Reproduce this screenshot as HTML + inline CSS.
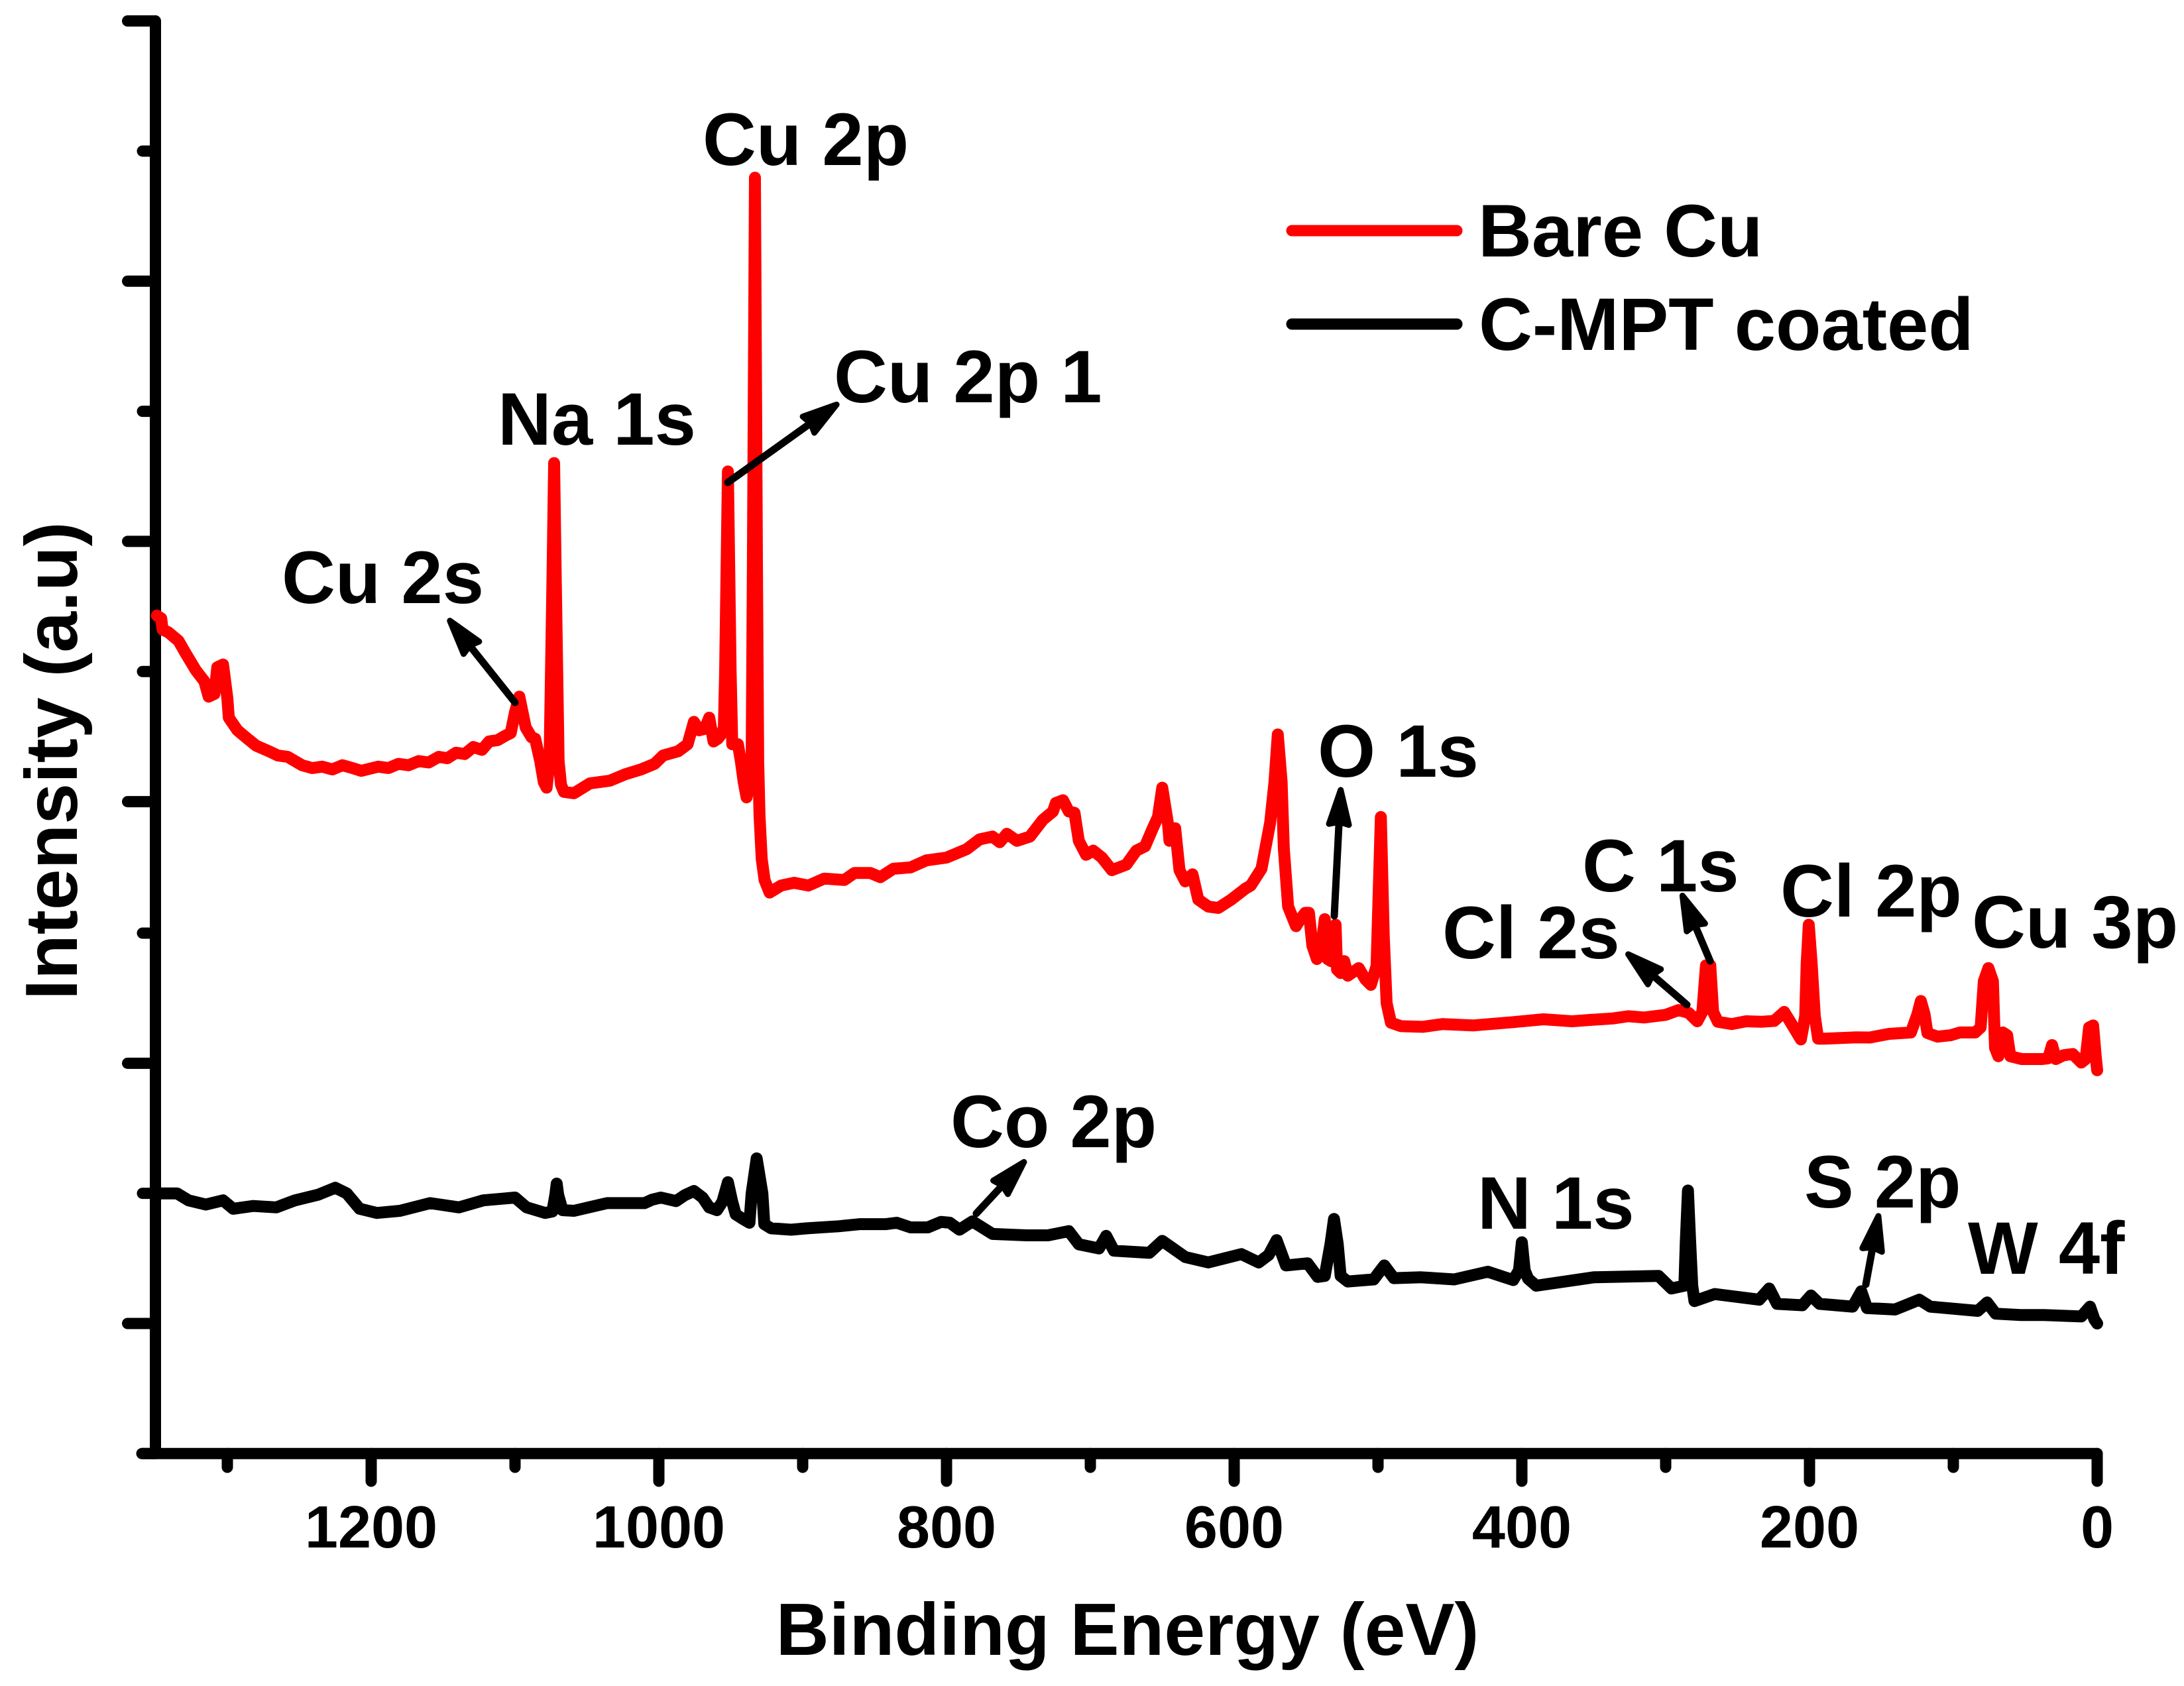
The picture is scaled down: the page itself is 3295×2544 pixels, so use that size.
<!DOCTYPE html>
<html lang="en">
<head>
<meta charset="utf-8">
<title>XPS survey spectra</title>
<style>
html,body{margin:0;padding:0;background:#fff;}
svg{display:block;}
text{font-family:"Liberation Sans",Arial,sans-serif;font-weight:bold;fill:#000;white-space:pre;}
.lbl{font-size:112px;}
.tick{font-size:90px;text-anchor:middle;}
.title{font-size:111px;}
</style>
</head>
<body>
<svg id="chart" xmlns="http://www.w3.org/2000/svg" width="3295" height="2544" viewBox="0 0 3295 2544">
<rect x="0" y="0" width="3295" height="2544" fill="#fff"/>
<g id="axes"></g>
<g id="series"></g>
<g id="arrows"></g>
<g>
<text class="lbl" x="1060" y="249">Cu 2p</text>
<text class="lbl" x="751" y="671">Na 1s</text>
<text class="lbl" x="1258" y="607">Cu 2p 1</text>
<text class="lbl" x="425" y="910">Cu 2s</text>
<text class="lbl" x="1988" y="1172">O 1s</text>
<text class="lbl" x="2387" y="1345">C 1s</text>
<text class="lbl" x="2176" y="1446">Cl 2s</text>
<text class="lbl" x="2686" y="1383">Cl 2p</text>
<text class="lbl" x="2975" y="1430">Cu 3p</text>
<text class="lbl" x="1434" y="1731">Co 2p</text>
<text class="lbl" x="2229" y="1854">N 1s</text>
<text class="lbl" x="2722" y="1822">S 2p</text>
<text class="lbl" x="2969" y="1922">W 4f</text>
</g>
<g>
<line x1="1949" y1="348" x2="2198" y2="348" stroke="#f00" stroke-width="17" stroke-linecap="round"/>
<text class="lbl" x="2230" y="387">Bare Cu</text>
<line x1="1949" y1="489" x2="2198" y2="489" stroke="#000" stroke-width="17" stroke-linecap="round"/>
<text class="lbl" x="2231" y="528">C-MPT coated</text>
</g>
<text class="title" x="1701" y="2497" text-anchor="middle">Binding Energy (eV)</text>
<text class="title" transform="translate(116,1148) rotate(-90)" text-anchor="middle">Intensity (a.u)</text>
</svg>
<script>
const xMajorTicks = [1200, 1000, 800, 600, 400, 200, 0];
const xMinorTicks = [1300, 1100, 900, 700, 500, 300, 100];
const yMajorTicks = [1024, 838, 652, 466, 279, 93];
const yMinorTicks = [931, 745, 559, 372, 186, 0];

const bareEnergy = [
1349,1346,1345,1341,1334,1329,1322,1316,1313,1309,
1307,1303,1300,1299,1293,1286,1280,1271,1265,1258,
1248,1241,1234,1227,1220,1213,1207,1195,1188,1181,
1174,1167,1160,1153,1147,1141,1135,1129,1123,1118,
1112,1107,1103,1100,1097,1092.6,1088.5,1086,1082.5,1080,
1078,1076,1074,1072.8,1071.6,1069.7,1068,1066,1059,1048,
1034,1023.5,1012.4,1003,997,986.6,980,975.6,972,968,
965,962,959,956,954.8,953.9,952,950.1,949.2,949,
945,943,941,939,937,935.5,934.6,933.2,931.8,930.9,
930,928.5,926.5,923,915,906,896,885,871,864,
853,846,837,825,814,800,786,777,768,763,
758,751,742,733,726,724,719,715,711,708,
703,698,692,685,675,668,662,657,653,650,
646,645,641,638,634,629,625,618,611,602,
592,588.5,581,579,575,572,569.7,567,565.5,562.5,
557,554,550.6,548,545.6,542.5,540,537,535,532.7,
529.5,528.5,526,523.5,521,513.4,508.8,505,501,498,
496,494,491,484,469,455,434,406,385,365,
352,337,326,315,300,291,284,278,274.5,272,
269,267,263.7,254,244,233.6,224.5,217.6,213,206,
203,202,200.5,198.5,196.3,194,189.4,168,158,144.7,
129.5,125,122.6,120,118,111,102,95.4,84.8,81,
78.8,75.6,72.5,71,68.7,65.6,62.6,60.4,52.5,38.7,
34,31.4,28.7,23.5,17,11,8,5.6,2.8,1,
0];
const bareIntensity = [
599,597,589,587,581,572,560,552,541,543,
562,564,540,526,517,511,506,502,499,498,
492,490,491,489,492,490,488,491,490,493,
492,495,494,498,497,501,500,505,503,509,
510,513,515,530,541,519,512,511,495,480,
476,495,622,708,622,495,478,473,472,479,
481,485.5,489,493,499,502,507,523,517,518,
526,509,511,515,519,559,702,559,519,507,
507,495,480,469,478,495,638,912,638,495,
456,425,410,401,406,408,406,411,410,415,
415,412,418,419,424,426,432,439,441,437,
443,438,441,453,459,465,467,459,458,438,
428,431,426,417,421,431,434,446,455,476,
450,438,447,417,409,414,396,391,390,396,
404,406,418,429,451,480,514,480,432.5,391,
377,382,386.5,386.5,363,353.5,357,382,353.5,352,
378,346,343.5,352,341.6,347,339,335,348.6,455,
369.6,322,308,305.5,305,307,306,308.4,310.4,309,
310,311,312.6,311.7,313.6,317,315,309,315.7,349,
349,315.7,308.6,307,309,308.6,309.3,315.7,308,296,
312.6,350,378,350,312.6,296.6,296.6,297.5,297.4,300,
301,314,323.5,314,300.6,298,299,301,301,304.6,
337.7,347,337.7,290,284,301,299,284,282,282,
282.5,292,282,284.7,285.6,279.5,282,304.6,306,284,
274];

const coatedEnergy = [
1350,1346,1335,1327,1315,1303,1296,1282,1266,1253,
1237,1225,1217,1208,1196,1180,1159,1139,1122,1100,
1092,1079,1074,1072,1071,1070,1067,1059,1036,1020,
1010,1005,998.6,988,982,975.6,969.6,965,959.6,955.8,
952,949,946.6,942,937,935.5,932,928,926.7,922,
908,897,875,860,842,834.6,825,813,803.8,797.7,
791,782,768,744,729.5,715,708,694,689,683.6,
659,650,634,618,595,583,576,570.5,564,549,
542,537,533,530.6,528,526,521,503,495.6,489,
470,447,423.6,406,402,400,398,395.6,390,350,
305,296,287,286,284.5,283,281.5,280,266,235,
228,222.6,205,199,193,170,164,160,140.5,123.7,
116,83,76.5,70.6,53,37,11,5,2,0];
const coatedIntensity = [
186,186,186,181,178,181,175,177,176,181,
185,190,186,175,172,173.5,179,176,181,183,
176,172,173,185,193,185,174,173.5,179,179,
179,181.4,183,180.5,184.7,187.7,183,176,174,180,
194,180,171,168,165,186,211,186,164,161,
160,161,162.5,164,164,165,161.7,161.7,165.6,165,
160,166,157,156,156,159,149.6,146.6,155.6,145,
143.5,152,140.5,136.6,142.6,136.6,142,152.6,134.5,136,
126.3,127,150,167.7,150,127,123,124.5,134.5,125.4,
126,124.5,130,124,131,151,131,125,120,126,
127,118,120,152,188,152,120,109,114,110,
118,107,106,113,107,105,116,104,103,110,
105,102,108,100,99,99,98,105,96,93];

const NS = 'http://www.w3.org/2000/svg';
const xEnd = 3164, xPerEv = 2.17, yBase = 2193.3, yPerUnit = 2.111;
function xScale(ev) { return xEnd - ev * xPerEv; }
function yScale(v) { return yBase - v * yPerUnit; }
function mk(tag, attrs, parent) {
  const el = document.createElementNS(NS, tag);
  for (const k in attrs) el.setAttribute(k, attrs[k]);
  parent.appendChild(el);
  return el;
}
const axes = document.getElementById('axes');
const seriesGroup = document.getElementById('series');
const arrowsGroup = document.getElementById('arrows');
const axStyle = { stroke: '#000', 'stroke-linecap': 'round', fill: 'none', 'stroke-width': 17 };

const yAxisLine = mk('line', Object.assign({ x1: 234.5, y1: yScale(1024), x2: 234.5, y2: yBase }, axStyle), axes);



const xAxisLine = mk('line', Object.assign({ x1: 214, y1: yBase, x2: xEnd, y2: yBase }, axStyle), axes);



yMajorTicks.forEach(function (v) {
  const t = mk('line', Object.assign({ x1: 192.5, y1: yScale(v), x2: 234, y2: yScale(v) }, axStyle), axes);
  
  
});
yMinorTicks.forEach(function (v) {
  const t = mk('line', Object.assign({ x1: 215, y1: yScale(v), x2: 234, y2: yScale(v) }, axStyle), axes);
  
  
});
xMajorTicks.forEach(function (v) {
  const t = mk('line', Object.assign({ x1: xScale(v), y1: yBase, x2: xScale(v), y2: 2235 }, axStyle), axes);
  
  
  const lab = mk('text', { x: xScale(v), y: 2335, class: 'tick' }, axes);
  
  
  lab.textContent = String(v);
});
xMinorTicks.forEach(function (v) {
  const t = mk('line', Object.assign({ x1: xScale(v), y1: yBase, x2: xScale(v), y2: 2214 }, axStyle), axes);
  
  
});

function pointsOf(xs, ys) {
  return xs.map(function (e, i) { return xScale(e).toFixed(1) + ',' + yScale(ys[i]).toFixed(1); }).join(' ');
}
const coatedLine = mk('polyline', { points: pointsOf(coatedEnergy, coatedIntensity), fill: 'none', stroke: '#000', 'stroke-width': 18, 'stroke-linejoin': 'round', 'stroke-linecap': 'round' }, seriesGroup);



const bareLine = mk('polyline', { points: pointsOf(bareEnergy, bareIntensity), fill: 'none', stroke: '#f00', 'stroke-width': 18, 'stroke-linejoin': 'round', 'stroke-linecap': 'round' }, seriesGroup);



function drawArrow(x1, y1, x2, y2, name) {
  const dx = x2 - x1, dy = y2 - y1, len = Math.hypot(dx, dy), ux = dx / len, uy = dy / len, px = -uy, py = ux;
  const tipX = x2 - ux * 6, tipY = y2 - uy * 6;
  const hl = 58, hw = 15, nk = 54;
  const bx = x2 - ux * hl, by = y2 - uy * hl, nx = x2 - ux * nk, ny = y2 - uy * nk;
  const d = 'M' + tipX + ' ' + tipY + 'L' + (bx + px * hw) + ' ' + (by + py * hw) + 'L' + nx + ' ' + ny + 'L' + (bx - px * hw) + ' ' + (by - py * hw) + 'Z';
  const g = mk('g', {}, arrowsGroup);
  
  
  mk('line', { x1: x1, y1: y1, x2: nx, y2: ny, stroke: '#000', 'stroke-width': 11, 'stroke-linecap': 'round' }, g);
  mk('path', { d: d, fill: '#000', stroke: '#000', 'stroke-width': 9, 'stroke-linejoin': 'round' }, g);
}
drawArrow(777, 1060, 675, 932, 'arrow-cu-2s');
drawArrow(1098, 728, 1267, 607, 'arrow-cu-2p-1');
drawArrow(2013, 1382, 2023, 1186, 'arrow-o-1s');
drawArrow(2580, 1450, 2536, 1346, 'arrow-c-1s');
drawArrow(2545, 1516, 2452, 1436, 'arrow-cl-2s');
drawArrow(1473, 1831, 1549, 1749, 'arrow-co-2p');
drawArrow(2815, 1938, 2835, 1829, 'arrow-s-2p');
</script>
</body>
</html>
